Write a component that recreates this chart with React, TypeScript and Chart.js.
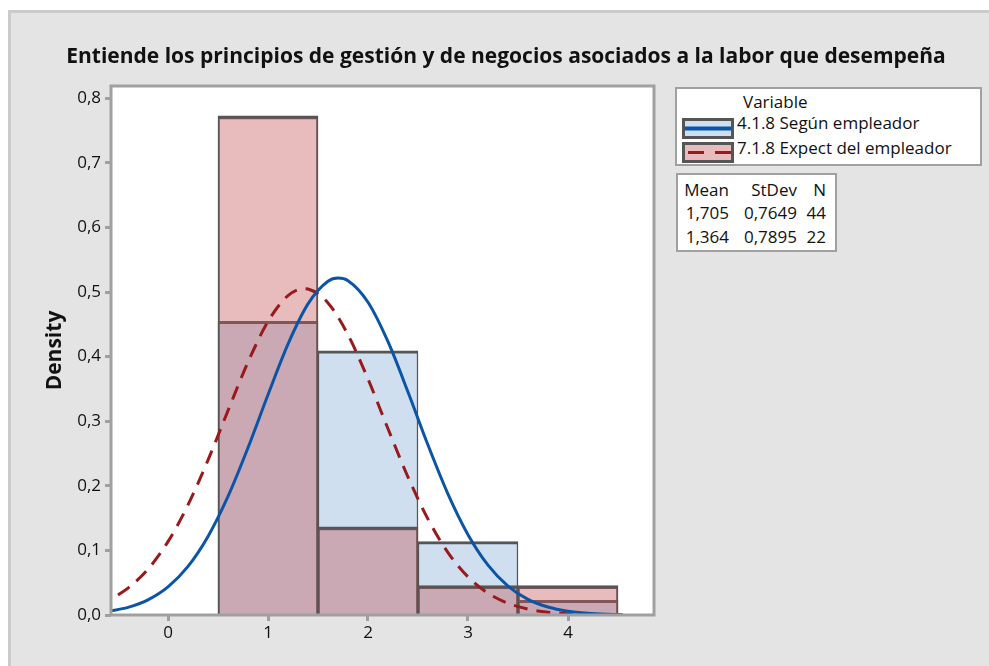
import React, { useEffect, useRef } from "react";
import { Chart, registerables } from "chart.js";

Chart.register(...registerables);

// ---------- data ----------
const chartTitle = "Entiende los principios de gestión y de negocios asociados a la labor que desempeña";
const yAxisTitle = "Density";
const legendTitle = "Variable";
const seriesNames = ["4.1.8 Según empleador", "7.1.8 Expect del empleador"];

const binCenters = [1, 2, 3, 4];
const densityEmpleador = [0.4545, 0.4091, 0.1136, 0.0227];
const densityExpect = [0.7727, 0.1364, 0.0455, 0.0455];

// fitted normal curves
const fitXEmpleador = [-0.6, -0.4, -0.2, 0, 0.2, 0.4, 0.6, 0.8, 1.0, 1.2, 1.4, 1.6, 1.7, 1.8, 2.0, 2.2, 2.4, 2.6, 2.8, 3.0, 3.2, 3.4, 3.6, 3.8, 4.0, 4.2, 4.4, 4.55];
const fitYEmpleador = [0.0056, 0.0118, 0.0235, 0.0435, 0.0753, 0.1217, 0.1837, 0.259, 0.3411, 0.4195, 0.4817, 0.5167, 0.5216, 0.5176, 0.4842, 0.4231, 0.3452, 0.2631, 0.1872, 0.1244, 0.0772, 0.0448, 0.0242, 0.0123, 0.0058, 0.0026, 0.0011, 0.0005];
const fitXExpect = [-0.5, -0.4, -0.2, 0, 0.2, 0.4, 0.6, 0.8, 1.0, 1.2, 1.364, 1.4, 1.6, 1.8, 2.0, 2.2, 2.4, 2.6, 2.8, 3.0, 3.2, 3.4, 3.6, 3.8, 4.0, 4.2, 4.4];
const fitYExpect = [0.0311, 0.0416, 0.071, 0.1136, 0.1704, 0.2398, 0.3164, 0.3915, 0.4544, 0.4945, 0.5053, 0.5048, 0.4832, 0.4338, 0.3653, 0.2884, 0.2136, 0.1484, 0.0966, 0.059, 0.0338, 0.0182, 0.0092, 0.0043, 0.0019, 0.0008, 0.0003];

const statsHeader = ["Mean", "StDev", "N"];
const statsEmpleador = ["1,705", "0,7649", "44"];
const statsExpect = ["1,364", "0,7895", "22"];

const xTicks = [0, 1, 2, 3, 4];
const xTickLabels = ["0", "1", "2", "3", "4"];
const yTicks = [0, 0.1, 0.2, 0.3, 0.4, 0.5, 0.6, 0.7, 0.8];
const yTickLabels = ["0,0", "0,1", "0,2", "0,3", "0,4", "0,5", "0,6", "0,7", "0,8"];
const xRange = [-0.57, 4.86];
const yRange = [0, 0.819];

// ---------- styles ----------
const FONT = "'Open Sans', 'Noto Sans', sans-serif";
const BLUE = "#0a55a6";
const RED = "#981a1c";
const BLUE_FILL = "#cfdff0";
const RED_FILL = "rgba(197,87,90,0.4)";
const OUTLINE = "#555555";
const AXIS = "#a0a0a0";
const TEXT = "#111111";

const W = 981;
const H = 656;

const framePlugin = {
  id: "frame",
  beforeDraw(chart: any) {
    const { ctx, chartArea: a } = chart;
    ctx.save();
    ctx.fillStyle = "#ffffff";
    ctx.fillRect(a.left, a.top, a.right - a.left, a.bottom - a.top);
    ctx.restore();
  },
  afterDatasetsDraw(chart: any) {
    const { ctx, chartArea: a } = chart;
    ctx.save();
    ctx.strokeStyle = AXIS;
    ctx.lineWidth = 3;
    ctx.strokeRect(a.left, a.top, a.right - a.left, a.bottom - a.top);
    ctx.restore();
  },
};

export default function App() {
  const ref = useRef<HTMLCanvasElement>(null);

  useEffect(() => {
    const canvas = ref.current;
    if (!canvas) return;
    const barBorder = { top: 3, left: 1.5, right: 1.5, bottom: 0 };
    const chart = new Chart(canvas, {
      type: "bar",
      data: {
        datasets: [
          {
            type: "line",
            label: seriesNames[0] + " fit",
            data: fitXEmpleador.map((x, i) => ({ x, y: fitYEmpleador[i] })),
            borderColor: BLUE,
            borderWidth: 3,
            pointRadius: 0,
            cubicInterpolationMode: "monotone",
            order: 0,
          },
          {
            type: "line",
            label: seriesNames[1] + " fit",
            data: fitXExpect.map((x, i) => ({ x, y: fitYExpect[i] })),
            borderColor: RED,
            borderWidth: 3,
            borderDash: [14, 9],
            pointRadius: 0,
            cubicInterpolationMode: "monotone",
            order: 1,
          },
          {
            type: "bar",
            label: seriesNames[1],
            data: binCenters.map((x, i) => ({ x, y: densityExpect[i] })),
            backgroundColor: RED_FILL,
            borderColor: OUTLINE,
            borderWidth: barBorder,
            barPercentage: 1,
            categoryPercentage: 1,
            grouped: false,
            order: 2,
          },
          {
            type: "bar",
            label: seriesNames[0],
            data: binCenters.map((x, i) => ({ x, y: densityEmpleador[i] })),
            backgroundColor: BLUE_FILL,
            borderColor: OUTLINE,
            borderWidth: barBorder,
            barPercentage: 1,
            categoryPercentage: 1,
            grouped: false,
            order: 3,
          },
        ] as any,
      },
      options: {
        responsive: false,
        animation: false,
        events: [],
        layout: { padding: { left: 15, right: 0, top: 0, bottom: 0 } },
        plugins: {
          legend: { display: false },
          tooltip: { enabled: false },
          title: {
            display: true,
            text: chartTitle,
            color: "#111111",
            font: { family: FONT, size: 21, weight: "bold" },
            padding: { top: 34, bottom: 16.8 },
          },
        },
        scales: {
          x: {
            type: "linear",
            min: xRange[0],
            max: xRange[1],
            offset: false,
            afterBuildTicks: (s: any) => {
              s.ticks = xTicks.map((v) => ({ value: v }));
            },
            afterFit: (s: any) => {
              s.height = 51;
            },
            grid: { offset: false, drawOnChartArea: false, drawTicks: true, tickLength: 6, tickColor: AXIS, tickWidth: 3, color: AXIS },
            border: { display: false },
            ticks: {
              color: TEXT,
              font: { family: FONT, size: 17 },
              padding: 2,
              maxRotation: 0,
              callback: (_v: any, i: number) => xTickLabels[i],
            },
          },
          y: {
            type: "linear",
            min: yRange[0],
            max: yRange[1],
            afterBuildTicks: (s: any) => {
              s.ticks = yTicks.map((v) => ({ value: v }));
            },
            afterFit: (s: any) => {
              s.width = 88;
            },
            grid: { offset: false, drawOnChartArea: false, drawTicks: true, tickLength: 6, tickColor: AXIS, tickWidth: 3, color: AXIS },
            border: { display: false },
            ticks: {
              color: TEXT,
              font: { family: FONT, size: 17 },
              padding: 4,
              callback: (_v: any, i: number) => yTickLabels[i],
            },
            title: {
              display: true,
              text: yAxisTitle,
              color: "#111111",
              font: { family: FONT, size: 21, weight: "bold" },
              padding: { top: 19, bottom: 0 },
            },
          },
          spacer: {
            type: "linear",
            position: "right",
            display: true,
            grid: { display: false },
            border: { display: false },
            ticks: { display: false },
            afterFit: (s: any) => {
              s.width = 335;
            },
          },
        },
      } as any,
      plugins: [framePlugin],
    });
    return () => chart.destroy();
  }, []);

  const textStyle: React.CSSProperties = {
    position: "absolute",
    fontFamily: FONT,
    fontSize: 17,
    color: TEXT,
    lineHeight: "22px",
    whiteSpace: "nowrap",
  };

  const statCols = [53, 121, 150];
  const statRows = [statsHeader, statsEmpleador, statsExpect];
  const statTops = [4, 27, 51];

  return (
    <div
      style={{
        position: "fixed",
        left: 8,
        top: 10,
        right: 0,
        bottom: 0,
        background: "#e4e4e4",
        boxShadow: "inset 3px 3px 0 #cbcbcb",
        overflow: "hidden",
      }}
    >
      <canvas ref={ref} width={W} height={H} style={{ position: "absolute", left: 0, top: 0, width: W, height: H }} />
      {/* legend box */}
      <div
        style={{
          position: "absolute",
          left: 667,
          top: 77,
          width: 307,
          height: 79,
          boxSizing: "border-box",
          border: "2px solid #a0a0a0",
          background: "#ffffff",
        }}
      >
        <div style={{ ...textStyle, left: 66, top: 2 }}>{legendTitle}</div>
        <svg style={{ position: "absolute", left: 5, top: 29 }} width={52} height={21}>
          <rect x={1.5} y={1.5} width={49} height={18} fill={BLUE_FILL} stroke={OUTLINE} strokeWidth={3} />
          <line x1={3} y1={10.5} x2={49} y2={10.5} stroke={BLUE} strokeWidth={4} />
        </svg>
        <div style={{ ...textStyle, left: 60, top: 23 }}>{seriesNames[0]}</div>
        <svg style={{ position: "absolute", left: 5, top: 53 }} width={52} height={21}>
          <rect x={1.5} y={1.5} width={49} height={18} fill="#e8bcbd" stroke={OUTLINE} strokeWidth={3} />
          <line x1={6} y1={10.5} x2={22} y2={10.5} stroke={RED} strokeWidth={3} />
          <line x1={33} y1={10.5} x2={49} y2={10.5} stroke={RED} strokeWidth={3} />
        </svg>
        <div style={{ ...textStyle, left: 60, top: 48 }}>{seriesNames[1]}</div>
      </div>
      {/* stats box */}
      <div
        style={{
          position: "absolute",
          left: 668,
          top: 163,
          width: 161,
          height: 79,
          boxSizing: "border-box",
          border: "2px solid #a0a0a0",
          background: "#ffffff",
        }}
      >
        {statRows.map((row, r) =>
          row.map((cell, c) => (
            <div
              key={r + "-" + c}
              style={{
                ...textStyle,
                top: statTops[r],
                right: 161 - 2 - statCols[c],
                textAlign: "right",
              }}
            >
              {cell}
            </div>
          ))
        )}
      </div>
    </div>
  );
}
